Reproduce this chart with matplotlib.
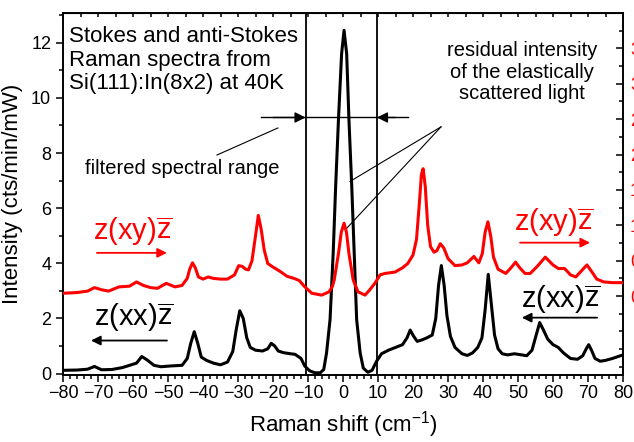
#!/usr/bin/env python3
import matplotlib
matplotlib.use("Agg")
import matplotlib.pyplot as plt
from matplotlib.ticker import MultipleLocator

plt.rcParams['font.family'] = ['Liberation Sans', 'DejaVu Sans']
plt.rcParams['mathtext.fontset'] = 'custom'
plt.rcParams['mathtext.rm'] = 'Liberation Sans'
plt.rcParams['mathtext.it'] = 'Liberation Sans:italic'

# z(xx)z spectrum, left axis (cts/min/mW)
xx_shift = [-80, -76, -73, -71, -69, -66, -63, -61, -59, -57.5, -56, -54, -52, -49, -46,
            -44.5, -43.5, -42.5, -41.5, -40.5, -39, -37, -35, -33, -31.5, -30.5, -29.5,
            -28.5, -27.5, -26.5, -25, -23, -21.5, -20.5, -19.5, -18.5, -17, -15, -13.7,
            -12, -10.9, -9.5, -8, -6.5, -5.5, -4.7, -3.7, -2.8, -2.1, -1.3, -0.4, 0.3,
            1.05, 1.7, 2.5, 3.2, 3.9, 4.9, 5.8, 7.1, 8.3, 9.6, 11, 13, 15, 17, 18.3, 19.2,
            20.2, 21.2, 22.5, 24, 25.5, 26.5, 27.3, 28.1, 28.9, 29.7, 30.7, 32, 34, 35.5,
            37, 38.5, 39.7, 40.6, 41.5, 42.4, 43.3, 44.3, 45.5, 47, 49, 51, 52.5, 54,
            55.2, 56.2, 57.2, 58.5, 60, 61.5, 63, 65, 67, 68.5, 69.5, 70.2, 71, 72, 73.5,
            75, 77, 80]
xx_int = [0.12, 0.13, 0.16, 0.26, 0.14, 0.15, 0.22, 0.3, 0.38, 0.62, 0.5, 0.3, 0.25,
          0.28, 0.3, 0.55, 1.1, 1.52, 1.1, 0.6, 0.48, 0.38, 0.32, 0.42, 0.8, 1.6, 2.28,
          2.0, 1.3, 0.95, 0.85, 0.82, 0.9, 1.1, 1.0, 0.82, 0.76, 0.72, 0.7, 0.55, 0.27,
          0.1, 0.03, 0.03, 0.15, 0.75, 1.96, 4.38, 6.79, 9.2, 11.6, 12.45, 11.6, 9.2,
          6.79, 4.38, 1.96, 0.75, 0.2, 0.05, 0.12, 0.45, 0.72, 0.85, 0.95, 1.05, 1.3,
          1.58, 1.35, 1.17, 1.22, 1.3, 1.4, 2.0, 3.2, 3.92, 3.2, 2.1, 1.35, 0.95, 0.72,
          0.66, 0.75, 0.95, 1.3, 2.3, 3.6, 2.5, 1.4, 0.9, 0.72, 0.68, 0.72, 0.68, 0.65,
          0.85, 1.4, 1.85, 1.6, 1.25, 1.05, 0.95, 0.75, 0.55, 0.52, 0.65, 0.9, 1.05,
          0.85, 0.55, 0.45, 0.48, 0.55, 0.68]

# z(xy)z spectrum, right axis
xy_shift = [-80, -76, -73, -71, -69, -67, -64, -61, -59, -57, -55, -53, -50.5, -48, -46,
            -44.5, -43.8, -43, -42.2, -41.3, -40, -38.5, -37, -35, -33, -31, -29.8,
            -28.8, -27.8, -27, -26, -25, -24.2, -23.4, -22.5, -21.5, -20, -18, -16, -14,
            -12.5, -10.9, -8.9, -6.1, -4, -3, -2.5, -1.3, -0.5, 0.3, 1.0, 1.7, 2.9, 4.3,
            6.3, 7.5, 9.1, 10.6, 12, 14.9, 17, 18.5, 20, 21, 21.8, 22.4, 22.9, 23.5, 24.2,
            25, 26, 26.8, 27.8, 28.8, 30, 32, 34, 35.5, 37.4, 38.8, 39.8, 40.6, 41.4,
            42.2, 43, 44.3, 46.5, 48, 49.3, 50.5, 52, 53.5, 55.5, 57.8, 60, 61.5, 63.3,
            65, 66.5, 68, 69.7, 71, 72.5, 74.5, 77, 80]
xy_int = [0.04, 0.05, 0.07, 0.12, 0.09, 0.07, 0.13, 0.14, 0.2, 0.15, 0.12, 0.11, 0.18,
          0.13, 0.15, 0.25, 0.38, 0.47, 0.4, 0.27, 0.24, 0.27, 0.25, 0.24, 0.24, 0.3,
          0.43, 0.42, 0.38, 0.37, 0.5, 0.85, 1.14, 0.95, 0.65, 0.46, 0.41, 0.35, 0.28,
          0.25, 0.22, 0.13, 0.04, 0.014, 0.06, 0.14, 0.23, 0.6, 0.9, 1.03, 0.9, 0.6,
          0.23, 0.06, 0.014, 0.08, 0.18, 0.3, 0.32, 0.34, 0.4, 0.46, 0.58, 0.8, 1.3,
          1.72, 1.8, 1.55, 1.0, 0.7, 0.62, 0.64, 0.74, 0.68, 0.53, 0.43, 0.44, 0.47,
          0.56, 0.47, 0.6, 0.9, 1.05, 0.85, 0.55, 0.38, 0.32, 0.4, 0.48, 0.4, 0.32,
          0.32, 0.42, 0.55, 0.44, 0.39, 0.39, 0.3, 0.27, 0.35, 0.44, 0.35, 0.24, 0.2,
          0.19, 0.19]

filter_edges = [-10.7, 9.7]
right_ticks = [0.0, 0.5, 1.0, 1.5, 2.0, 2.5, 3.0, 3.5]

fig = plt.figure(figsize=(6.34, 4.42), dpi=100)
ax = fig.add_axes([63 / 634, 67 / 442, 560 / 634, 362 / 442])
ax2 = ax.twinx()

ax.plot(xx_shift, xx_int, color='black', lw=2.2, zorder=3)
ax2.plot(xy_shift, xy_int, color='red', lw=2.2, zorder=3)

ax.set_xlim(-80, 80)
ax.set_ylim(-0.05, 13.08)
ax2.set_ylim(-1.115, 4.0)

for x in filter_edges:
    ax.axvline(x, color='black', lw=1.3, zorder=2)

# ticks, Origin style
ax.xaxis.set_major_locator(MultipleLocator(10))
ax.xaxis.set_minor_locator(MultipleLocator(2))
ax.yaxis.set_major_locator(MultipleLocator(2))
ax.yaxis.set_minor_locator(MultipleLocator(1))
ax.tick_params(axis='both', which='major', direction='out', length=5, width=1.1,
               labelsize=13, top=False, right=False)
ax.tick_params(axis='both', which='minor', direction='out', length=3, width=1.1,
               top=False, right=False)
ax.tick_params(axis='x', pad=2)

ax2.set_yticks(right_ticks)
ax2.set_yticklabels([f"{t:.1f}" for t in right_ticks])
ax2.yaxis.set_minor_locator(MultipleLocator(0.25))
ax2.tick_params(axis='y', which='major', direction='in', length=5, width=1.1,
                labelsize=13, labelcolor='red', pad=5)
ax2.tick_params(axis='y', which='minor', direction='in', length=3, width=1.1)

top = ax.secondary_xaxis('top')
top.xaxis.set_major_locator(MultipleLocator(10))
top.xaxis.set_minor_locator(MultipleLocator(5))
top.tick_params(which='both', direction='in', length=3, width=1.1, labeltop=False)

for a in (ax, ax2):
    for s in a.spines.values():
        s.set_linewidth(1.2)

ax.set_xlabel('Raman shift (cm$^{-1}$)', fontsize=16, labelpad=5)
ax.set_ylabel('Intensity (cts/min/mW)', fontsize=16, labelpad=6)

ax.text(-78.3, 12.6, 'Stokes and anti-Stokes\nRaman spectra from\nSi(111):In(8x2) at 40K',
        fontsize=16, va='top', ha='left', linespacing=1.15)
ax.text(51.2, 12.05, 'residual intensity\nof the elastically\nscattered light',
        fontsize=14.5, va='top', ha='center', linespacing=1.15)
ax.text(-46, 7.45, 'filtered spectral range', fontsize=14.5, va='center', ha='center')

# filtered range arrows
arrow_y = 9.29
ax.plot([-23.4, 18.5], [arrow_y, arrow_y], color='black', lw=1, zorder=4)
ax.annotate('', xy=(filter_edges[0], arrow_y), xytext=(-20, arrow_y),
            arrowprops=dict(arrowstyle='-|>', color='black', lw=1, mutation_scale=16,
                            shrinkA=0, shrinkB=0))
ax.annotate('', xy=(filter_edges[1], arrow_y), xytext=(15, arrow_y),
            arrowprops=dict(arrowstyle='-|>', color='black', lw=1, mutation_scale=16,
                            shrinkA=0, shrinkB=0))

# leader lines
ax.plot([-36, -18.6], [7.93, 8.91], color='black', lw=0.8, zorder=4)
ax.plot([28, 2.0], [8.95, 6.97], color='black', lw=0.8, zorder=4)
ax.plot([28, 1.05], [8.95, 5.27], color='black', lw=0.8, zorder=4)

# polarization labels and arrows
lab_xy = r'$\mathregular{z(xy)\overline{z}}$'
lab_xx = r'$\mathregular{z(xx)\overline{z}}$'
ax.text(-60, 5.15, lab_xy, color='red', fontsize=21, ha='center', va='center')
ax.text(-59.7, 2.05, lab_xx, color='black', fontsize=21, ha='center', va='center')
ax.text(60.3, 5.5, lab_xy, color='red', fontsize=21, ha='center', va='center')
ax.text(62.3, 2.7, lab_xx, color='black', fontsize=21, ha='center', va='center')

arr = dict(arrowstyle='-|>', lw=1.3, mutation_scale=14, shrinkA=0, shrinkB=0)
ax.annotate('', xy=(-50.3, 4.38), xytext=(-70.3, 4.38), arrowprops=dict(arr, color='red'))
ax.annotate('', xy=(-72, 1.2), xytext=(-50.3, 1.2), arrowprops=dict(arr, color='black'))
ax.annotate('', xy=(70.6, 4.75), xytext=(50.6, 4.75), arrowprops=dict(arr, color='red'))
ax.annotate('', xy=(51.1, 2.03), xytext=(72.6, 2.03), arrowprops=dict(arr, color='black'))

fig.savefig('out.png', dpi=100)
